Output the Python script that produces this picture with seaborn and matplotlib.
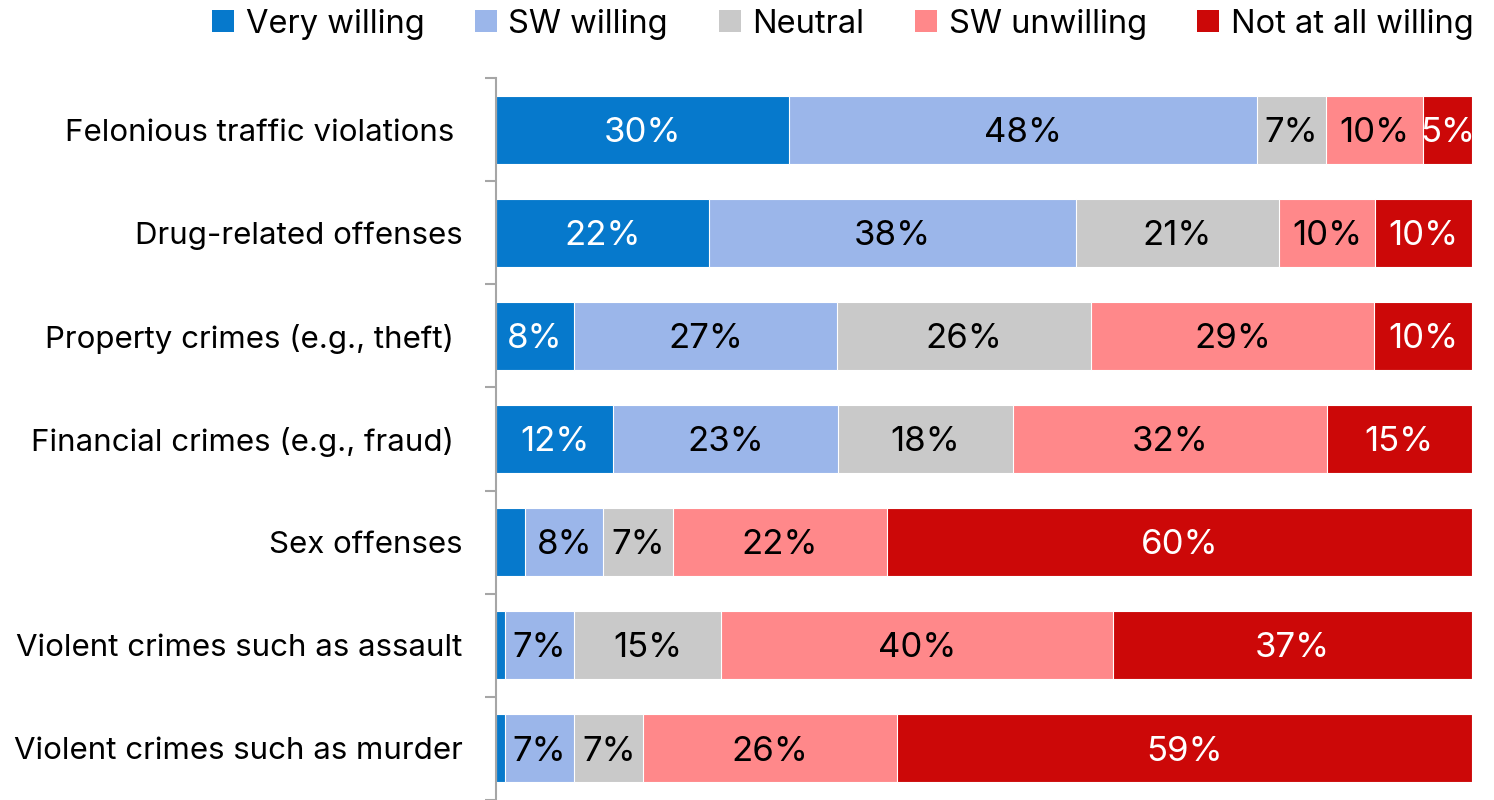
import numpy as np
import pandas as pd
import seaborn as sns
import matplotlib.pyplot as plt
from matplotlib.ticker import FixedLocator
from matplotlib.patches import Patch

# survey data (percent of respondents)
crimes = ['Felonious traffic violations ', 'Drug-related offenses', 'Property crimes (e.g., theft) ',
          'Financial crimes (e.g., fraud) ', 'Sex offenses', 'Violent crimes such as assault',
          'Violent crimes such as murder']
levels = ['Very willing', 'SW willing', 'Neutral', 'SW unwilling', 'Not at all willing']
very_willing = [30, 21.8, 8, 12, 3, 0.9, 0.9]
sw_willing = [48, 37.6, 26.9, 23, 8, 7.1, 7.1]
neutral = [7, 20.8, 26.1, 18, 7.1, 15.1, 7.1]
sw_unwilling = [10, 9.9, 29, 32.1, 22, 40.1, 26]
not_willing = [5, 9.9, 10, 14.9, 59.9, 36.8, 58.9]
colors = ['#0679CC', '#9BB6EA', '#C9C9C9', '#FF888A', '#CC0808']
text_colors = ['white', 'black', 'black', 'black', 'white']

plt.rcParams['font.family'] = ['Inter', 'DejaVu Sans']

df = pd.DataFrame({'crime': crimes, 'Very willing': very_willing, 'SW willing': sw_willing,
                   'Neutral': neutral, 'SW unwilling': sw_unwilling,
                   'Not at all willing': not_willing})
cum = df[levels].cumsum(axis=1)

fig = plt.figure(figsize=(14.94, 8), dpi=100)
ax = fig.add_axes([0.332, 0.0, 0.6533, 0.9025])

# stacked bars: draw the running totals, largest first
for lvl, col in reversed(list(zip(levels, colors))):
    sns.barplot(data=cum.assign(crime=df['crime']), x=lvl, y='crime', color=col,
                saturation=1, width=0.66, edgecolor='white', linewidth=0.8, ax=ax,
                orient='h')

# segment labels
for i, crime in enumerate(crimes):
    for lvl, tc in zip(levels, text_colors):
        val = df.loc[i, lvl]
        if val < 4:
            continue
        mid = cum.loc[i, lvl] - val / 2
        ax.text(mid, i + 0.03, f'{val:.0f}%', ha='center', va='center', color=tc, fontsize=25)

ax.set_xlim(0, 100)
ax.set_ylim(6.5, -0.5)
ax.set_xlabel('')
ax.set_ylabel('')
ax.xaxis.set_visible(False)
for s in ['top', 'right', 'bottom']:
    ax.spines[s].set_visible(False)
ax.spines['left'].set_color('#A6A6A6')
ax.spines['left'].set_linewidth(1.5)
ax.yaxis.set_minor_locator(FixedLocator(np.arange(-0.5, 7, 1)))
ax.tick_params(axis='y', which='major', length=0, pad=24, labelsize=22.5)
ax.tick_params(axis='y', which='minor', length=8, width=1.5, color='#A6A6A6')

handles = [Patch(facecolor=c, label=l) for l, c in zip(levels, colors)]
fig.legend(handles=handles, loc='upper right', bbox_to_anchor=(1.006, 1.026), ncol=5,
           frameon=False, fontsize=23.5, handlelength=0.68, handleheight=0.68,
           handletextpad=0.35, columnspacing=1.55)

fig.savefig('out.png', dpi=100)
